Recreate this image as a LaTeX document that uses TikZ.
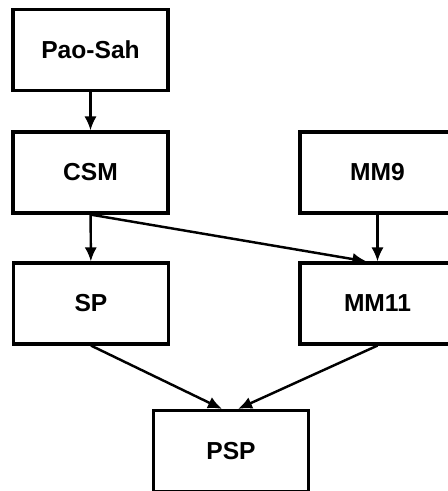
\documentclass[tikz,border=0pt]{standalone}
\usepackage{fontspec}
\setmainfont{Liberation Sans}
\usetikzlibrary{arrows.meta}

\begin{document}
\begin{tikzpicture}[x=0.02cm,y=-0.02cm,
  box/.style={draw, line width=1.8pt, minimum width=3.1cm, minimum height=1.62cm,
    inner sep=0pt, font=\fontsize{14}{16}\selectfont\bfseries},
  arr/.style={line width=1.4pt, -{Latex[length=8pt,width=7pt]}}]
\clip (0,0) rectangle (448,491);
\node[box](paosah) at (90.5,50){Pao-Sah};
\node[box](csm) at (90.5,172.5){CSM};
\node[box](mm9) at (377.5,172.5){MM9};
\node[box](sp) at (91,303.5){SP};
\node[box](mm11) at (377.5,303.5){MM11};
\node[box](psp) at (231,451){PSP};
\draw[arr] (paosah) -- (csm);
\draw[arr] (csm) -- (sp);
\draw[arr] (csm.south) -- ([xshift=-0.22cm]mm11.north);
\draw[arr] (mm9) -- (mm11);
\draw[arr] (sp.south) -- ([xshift=-0.18cm]psp.north);
\draw[arr] (mm11.south) -- ([xshift=0.14cm]psp.north);
\end{tikzpicture}
\end{document}
